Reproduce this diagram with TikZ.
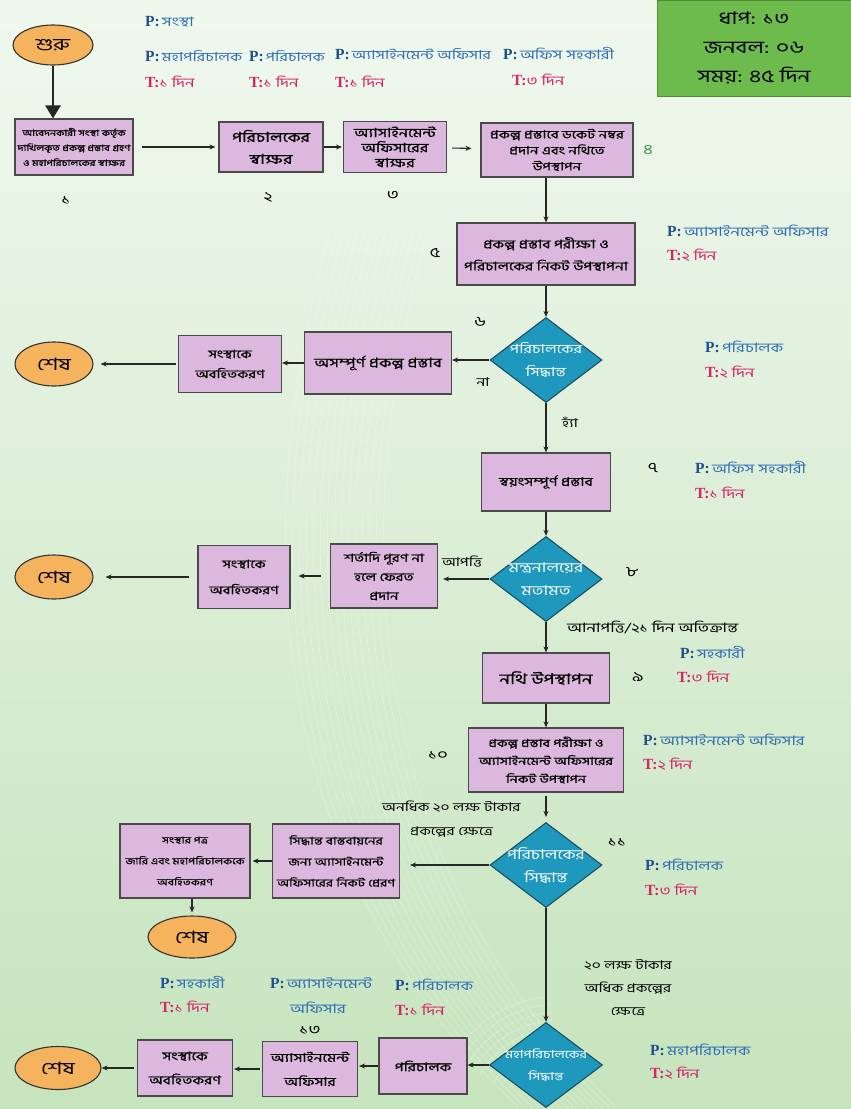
\documentclass[tikz,border=0pt]{standalone}
\usepackage{fontspec}
\setmainfont[Script=Bengali, FakeStretch=1.3]{Hind Siliguri}
\newfontfamily\bnbox[Script=Bengali, FakeStretch=1.3, FakeBold=0.7]{Hind Siliguri}
\newfontfamily\lser{Liberation Serif}
\usetikzlibrary{shapes.geometric,arrows.meta}
\definecolor{bgtop}{HTML}{F0F8EE}
\definecolor{bgbot}{HTML}{C6E4BD}
\definecolor{boxfill}{HTML}{DDB8DE}
\definecolor{boxline}{HTML}{4A4A4A}
\definecolor{diafill}{HTML}{1F98BE}
\definecolor{dialine}{HTML}{1B4F63}
\definecolor{ovfill}{HTML}{F6B35E}
\definecolor{pblue}{HTML}{1D4E92}
\definecolor{pblue2}{HTML}{2F6DB5}
\definecolor{tred}{HTML}{D6246A}
\definecolor{greenbox}{HTML}{6DBB4D}
\definecolor{greenline}{HTML}{4E8E36}
\definecolor{numgreen}{HTML}{3A9A4A}
\newcommand{\PP}[1]{{\lser\bfseries\fontsize{15.5}{16}\selectfont\color{pblue}P:}\,{\color{pblue2}#1}}
\newcommand{\TT}[1]{{\lser\bfseries\fontsize{15.5}{16}\selectfont\color{tred}T:}{\color{tred}#1}}
\newcommand{\fs}[2]{\fontsize{#1}{#2}\selectfont}
\tikzset{
  box/.style={draw=boxline, fill=boxfill, line width=1.1pt, align=center, inner sep=2pt, font=\bnbox\fs{12}{16}},
  dia/.style={diamond, draw=dialine, fill=diafill, line width=1.1pt, inner sep=0pt},
  dtext/.style={text=white, align=center, inner sep=0pt, font=\fs{12.5}{23}},
  oval/.style={ellipse, draw=black!80, fill=ovfill, line width=1.1pt, inner sep=0pt, font=\fs{17}{18}},
  lab/.style={anchor=west, inner sep=0pt, font=\fs{13}{15}},
  num/.style={inner sep=0pt, font=\fs{14}{16}},
  note/.style={inner sep=0pt, align=center, font=\fs{12}{14}},
  arr/.style={-{Stealth[length=6pt,width=5pt]}, line width=1.1pt, draw=black!85},
}
\begin{document}
\begin{tikzpicture}[x=1pt,y=-1pt]
\useasboundingbox (0,0) rectangle (851,1109);
\shade[top color=bgtop, bottom color=bgbot] (0,0) rectangle (851,1109);
\foreach \i in {0,...,14}
  \draw[white, opacity=0.3, line width=0.6pt] (330+\i*7,230) .. controls (230+\i*7,600) and (300+\i*7,900) .. (520+\i*7,1109);
\foreach \r in {60,68,...,124}
  \draw[white, opacity=0.3, line width=0.6pt] (560,1120) ++(210:\r) arc[start angle=210, end angle=265, radius=\r];

% info box
\node[draw=greenline, fill=greenbox, line width=1pt, minimum width=194pt, minimum height=96pt, align=center, inner sep=0pt, font=\fs{17.5}{29}] (info) at (754,48) {ধাপ: ১৩\\জনবল: ০৬\\সময়: ৪৫ দিন};

% top row
\node[oval, minimum width=80pt, minimum height=40pt] (start) at (53,45) {শুরু};
\node[box, minimum width=118pt, minimum height=56pt, font=\bnbox\fs{8.5}{15}] (b1) at (74,147) {আবেদনকারী সংস্থা কর্তৃক\\দাখিলকৃত প্রকল্প প্রস্তাব গ্রহণ\\ও মহাপরিচালকের স্বাক্ষর};
\node[box, minimum width=104pt, minimum height=50pt, font=\bnbox\fs{13.5}{22}] (b2) at (271,147) {পরিচালকের\\স্বাক্ষর};
\node[box, minimum width=103pt, minimum height=51pt, font=\bnbox\fs{12.5}{15}] (b3) at (395,147) {অ্যাসাইনমেন্ট\\অফিসারের\\স্বাক্ষর};
\node[box, minimum width=152pt, minimum height=54pt, font=\bnbox\fs{11.5}{16}] (b4) at (557,150) {প্রকল্প প্রস্তাবে ডকেট নম্বর\\প্রদান এবং নথিতে\\উপস্থাপন};

\node[num] (n1) at (66,200) {১};
\node[num] (n2) at (268,197) {২};
\node[num] (n3) at (393,195) {৩};
\node[num, text=numgreen] (n4) at (648,150) {৪};

\node[lab] (p0) at (145,22) {\PP{সংস্থা}};
\node[lab, font=\fs{12.5}{15}] (p1) at (145,56) {\PP{মহাপরিচালক}};
\node[lab] (t1) at (145,82) {\TT{১ দিন}};
\node[lab, font=\fs{12.5}{15}] (p2) at (249,56) {\PP{পরিচালক}};
\node[lab] (t2) at (249,82) {\TT{ ১ দিন}};
\node[lab, font=\fs{12.5}{15}] (p3) at (335,54) {\PP{অ্যাসাইনমেন্ট অফিসার}};
\node[lab] (t3) at (335,82) {\TT{১ দিন}};
\node[lab] (p4) at (503,54) {\PP{অফিস সহকারী}};
\node[lab] (t4) at (512,80) {\TT{ ৩ দিন}};

\draw[line width=2.6pt, draw=black!85, -{Triangle[length=13pt,width=15pt]}] (start) -- (start |- b1.north);
\draw[arr, shorten <=8pt, shorten >=3pt] (b1) -- (b2);
\draw[arr, shorten >=1pt] (b2) -- (b3);
\draw[arr, shorten <=5pt, shorten >=9pt] (b3) -- (b4);

% column
\node[box, minimum width=178pt, minimum height=62pt, font=\bnbox\fs{12}{22}] (b5) at (546,254) {প্রকল্প প্রস্তাব পরীক্ষা ও\\পরিচালকের নিকট উপস্থাপনা};
\node[num] (n5) at (435,253) {৫};
\node[lab] (p5) at (667,231) {\PP{অ্যাসাইনমেন্ট অফিসার}};
\node[lab] (t5) at (667,255) {\TT{২ দিন}};
\draw[arr] (b4.south -| b5) -- (b5);

\node[dia, minimum width=112pt, minimum height=85pt, label={[dtext]center:পরিচালকের\\সিদ্ধান্ত}] (d6) at (546,360) {};
\node[num] (n6) at (480,322) {৬};
\node[lab] (p6) at (705,347) {\PP{পরিচালক}};
\node[lab] (t6) at (705,372) {\TT{২ দিন}};
\draw[arr] (b5) -- (d6);

\node[box, minimum width=147pt, minimum height=62pt, font=\bnbox\fs{13}{16}] (b6a) at (378,363) {অসম্পূর্ণ প্রকল্প প্রস্তাব};
\node[box, minimum width=103pt, minimum height=57pt, font=\bnbox\fs{11.5}{20}] (b6b) at (230,364) {সংস্থাকে\\অবহিতকরণ};
\node[oval, minimum width=78pt, minimum height=44pt] (e1) at (54,364) {শেষ};
\draw[arr] (d6.west) -- (d6.west -| b6a.east);
\node[note] (no) at (483,382) {না};
\draw[arr] (b6a.west) -- (b6a.west -| b6b.east);
\draw[arr, shorten <=2pt, shorten >=7pt] (b6b) -- (e1);

\node[box, minimum width=129pt, minimum height=58pt, font=\bnbox\fs{12}{16}] (b7) at (546,482) {স্বয়ংসম্পূর্ণ প্রস্তাব};
\node[note] (yes) at (570,422) {হ্যাঁ};
\node[num] (n7) at (653,468) {৭};
\node[lab] (p7) at (695,468) {\PP{অফিস সহকারী}};
\node[lab] (t7) at (695,493) {\TT{১ দিন}};
\draw[arr] (d6) -- (b7);

\node[dia, minimum width=112pt, minimum height=85pt, label={[dtext, font=\fs{13.5}{23}]center:মন্ত্রনালয়ের\\মতামত}] (d8) at (546,579) {};
\node[num] (n8) at (632,572) {৮};
\draw[arr] (b7) -- (d8);

\node[box, minimum width=107pt, minimum height=64pt, font=\bnbox\fs{11.5}{19}] (b8a) at (384,576) {শর্তাদি পূরণ না\\হলে ফেরত\\প্রদান};
\node[box, minimum width=92pt, minimum height=63pt, font=\bnbox\fs{11.5}{26}] (b8b) at (244,577) {সংস্থাকে\\অবহিতকরণ};
\node[oval, minimum width=78pt, minimum height=44pt] (e2) at (54,577) {শেষ};
\node[note] (obj) at (462,562) {আপত্তি};
\draw[arr, shorten >=5pt] (d8.west) -- (d8.west -| b8a.east);
\draw[arr, shorten <=9pt, shorten >=8pt] (b8a.west) -- (b8a.west -| b8b.east);
\draw[arr, shorten <=8pt, shorten >=12pt] (b8b) -- (e2);

\node[lab] (noobj) at (567,627) {আনাপত্তি/২১ দিন অতিক্রান্ত};
\node[box, minimum width=127pt, minimum height=50pt, font=\bnbox\fs{14.5}{16}] (b9) at (546,678) {নথি উপস্থাপন};
\node[num] (n9) at (638,677) {৯};
\node[lab] (p9) at (680,653) {\PP{সহকারী}};
\node[lab] (t9) at (677,677) {\TT{৩ দিন}};
\draw[arr] (d8) -- (b9);

\node[box, minimum width=155pt, minimum height=64pt, font=\bnbox\fs{11}{18}] (b10) at (546,760) {প্রকল্প প্রস্তাব পরীক্ষা ও\\অ্যাসাইনমেন্ট অফিসারের\\নিকট উপস্থাপন};
\node[num] (n10) at (438,755) {১০};
\node[lab] (p10) at (643,740) {\PP{অ্যাসাইনমেন্ট অফিসার}};
\node[lab] (t10) at (643,764) {\TT{২ দিন}};
\draw[arr] (b9) -- (b10);

\node[dia, minimum width=112pt, minimum height=85pt, label={[dtext, font=\fs{13.5}{23}]center:পরিচালকের\\সিদ্ধান্ত}] (d11) at (546,865) {};
\node[num] (n11) at (617,842) {১১};
\node[lab] (p11) at (645,865) {\PP{পরিচালক}};
\node[lab] (t11) at (645,890) {\TT{৩ দিন}};
\draw[arr, shorten <=3pt, shorten >=5pt] (b10) -- (d11);
\node[lab, font=\fs{12}{14}] (lt1) at (382,807) {অনধিক ২০ লক্ষ টাকার};
\node[lab, font=\fs{12}{14}] (lt2) at (410,832) {প্রকল্পের ক্ষেত্রে};

\node[box, minimum width=127pt, minimum height=74pt, font=\bnbox\fs{10.5}{21}] (b11a) at (336,861) {সিদ্ধান্ত বাস্তবায়নের\\জন্য অ্যাসাইনমেন্ট\\অফিসারের নিকট প্রেরণ};
\node[box, minimum width=130pt, minimum height=74pt, font=\bnbox\fs{9.3}{21}] (b11b) at (185,861) {সংস্থার পত্র\\জারি এবং মহাপরিচালককে\\অবহিতকরণ};
\node[oval, minimum width=88pt, minimum height=42pt] (e3) at (192,937) {শেষ};
\draw[arr, shorten >=10pt] (d11.west) -- (d11.west -| b11a.east);
\draw[arr, shorten >=2pt] (b11a.west) -- (b11a.west -| b11b.east);
\draw[arr, shorten >=3pt] (e3 |- b11b.south) -- (e3.north);

\node[dia, minimum width=113pt, minimum height=85pt, label={[dtext, font=\fs{11}{22}]center:মহাপরিচালকের\\সিদ্ধান্ত}] (d12) at (546,1065) {};
\node[note, font=\fs{12}{23}] (lt3) at (628,988) {২০ লক্ষ টাকার\\অধিক প্রকল্পের\\ক্ষেত্রে};
\node[lab] (p12) at (650,1050) {\PP{মহাপরিচালক}};
\node[lab] (t12) at (650,1073) {\TT{২ দিন}};
\draw[arr] (d11) -- (d12);

\node[box, minimum width=88pt, minimum height=56pt, font=\bnbox\fs{12}{16}] (b12) at (423,1066) {পরিচালক};
\node[box, minimum width=95pt, minimum height=55pt, font=\bnbox\fs{12}{24}] (b13) at (310,1069) {অ্যাসাইনমেন্ট\\অফিসার};
\node[box, minimum width=95pt, minimum height=56pt, font=\bnbox\fs{12}{24}] (b14) at (185,1068) {সংস্থাকে\\অবহিতকরণ};
\node[oval, minimum width=86pt, minimum height=43pt] (e4) at (58,1068) {শেষ};
\node[num] (n13) at (310,1030) {১৩};
\node[lab] (p13a) at (395,985) {\PP{পরিচালক}};
\node[lab] (t13a) at (395,1010) {\TT{১ দিন}};
\node[lab] (p13b) at (270,983) {\PP{অ্যাসাইনমেন্ট}};
\node[note, font=\fs{13}{15}] (p13c) at (318,1008) {\color{pblue2}অফিসার};
\node[lab] (p13d) at (160,983) {\PP{সহকারী}};
\node[lab] (t13d) at (160,1007) {\TT{১ দিন}};
\draw[arr] (d12.west) -- (d12.west -| b12.east);
\draw[arr, shorten >=1pt] (b12.west) -- (b12.west -| b13.east);
\draw[arr, shorten <=2pt, shorten >=1pt] (b13.west) -- (b13.west -| b14.east);
\draw[arr, shorten <=3pt] (b14) -- (e4);
\end{tikzpicture}
\end{document}
